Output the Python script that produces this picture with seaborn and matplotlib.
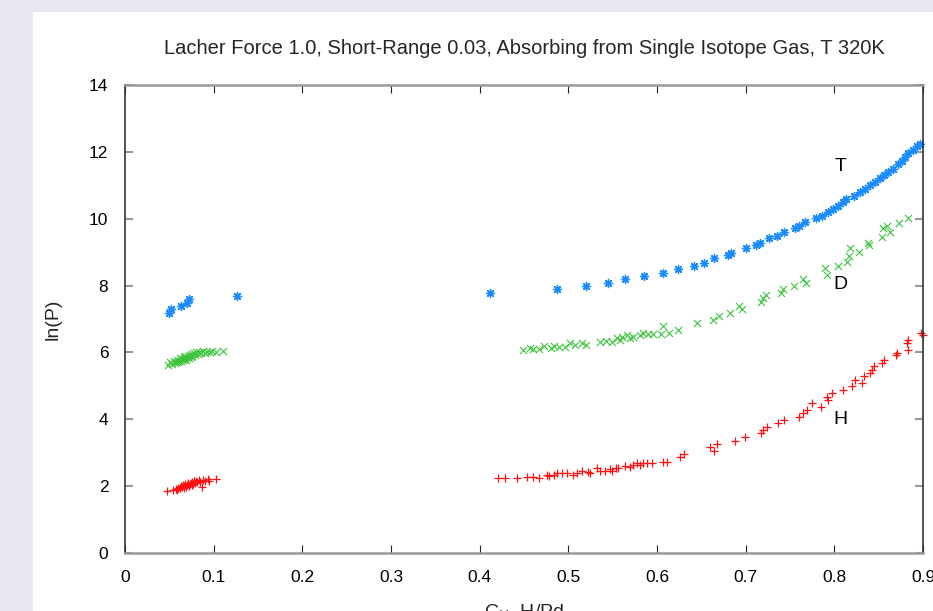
import matplotlib
matplotlib.use("Agg")
import matplotlib.pyplot as plt
import seaborn as sns
import pandas as pd
from matplotlib.patches import Rectangle

# ---- data ----
t_x = [0.0496, 0.052, 0.063, 0.070, 0.072, 0.126,
       0.412, 0.487, 0.520, 0.545, 0.564, 0.585, 0.607, 0.624, 0.642,
       0.653, 0.664, 0.680, 0.683, 0.700, 0.712, 0.716, 0.726, 0.735, 0.743,
       0.756, 0.760, 0.767, 0.779, 0.786, 0.793, 0.798, 0.804, 0.810, 0.813,
       0.822, 0.829, 0.835, 0.840, 0.846, 0.851, 0.856, 0.861, 0.866, 0.872,
       0.876, 0.880, 0.883, 0.889, 0.893, 0.897]
t_y = [7.18, 7.30, 7.39, 7.48, 7.60, 7.69,
       7.78, 7.90, 7.99, 8.08, 8.20, 8.29, 8.38, 8.50, 8.59,
       8.67, 8.82, 8.91, 8.97, 9.12, 9.21, 9.27, 9.42, 9.48, 9.60,
       9.72, 9.78, 9.90, 10.02, 10.08, 10.20, 10.29, 10.38, 10.50, 10.59,
       10.68, 10.80, 10.89, 11.01, 11.10, 11.22, 11.31, 11.40, 11.49, 11.64,
       11.73, 11.85, 11.97, 12.06, 12.18, 12.24]

d_x = [0.049, 0.051, 0.053, 0.055, 0.056, 0.058, 0.059, 0.060, 0.061, 0.062,
       0.063, 0.064, 0.065, 0.066, 0.067, 0.068, 0.069, 0.070, 0.071, 0.072,
       0.073, 0.074, 0.075, 0.076, 0.078, 0.079, 0.080, 0.082, 0.084, 0.086,
       0.088, 0.090, 0.093, 0.096, 0.098, 0.103, 0.110,
       0.449, 0.457, 0.460, 0.467, 0.473, 0.481, 0.484, 0.490, 0.496, 0.502,
       0.507, 0.515, 0.520, 0.536, 0.543, 0.549, 0.555, 0.558, 0.560, 0.566,
       0.570, 0.573, 0.581, 0.584, 0.590, 0.596, 0.604, 0.607, 0.614, 0.624,
       0.645, 0.663, 0.670, 0.682, 0.692, 0.696, 0.717, 0.720, 0.723, 0.740,
       0.742, 0.754, 0.765, 0.768, 0.789, 0.792, 0.804, 0.814, 0.816, 0.818,
       0.828, 0.838, 0.839, 0.854, 0.855, 0.859, 0.863, 0.873, 0.883]
d_y = [5.62, 5.70, 5.66, 5.74, 5.68, 5.72, 5.78, 5.70, 5.75, 5.82,
       5.73, 5.79, 5.76, 5.85, 5.80, 5.88, 5.78, 5.84, 5.90, 5.83,
       5.93, 5.87, 5.95, 5.89, 5.97, 5.92, 6.00, 5.96, 6.02, 5.98,
       6.04, 5.99, 6.02, 6.00, 6.03, 6.02, 6.05,
       6.07, 6.13, 6.10, 6.10, 6.19, 6.13, 6.19, 6.16, 6.16, 6.28,
       6.22, 6.28, 6.22, 6.31, 6.34, 6.31, 6.43, 6.37, 6.46, 6.52,
       6.43, 6.46, 6.52, 6.58, 6.55, 6.55, 6.55, 6.79, 6.58, 6.67,
       6.88, 6.97, 7.09, 7.18, 7.39, 7.30, 7.51, 7.63, 7.72, 7.78,
       7.90, 7.99, 8.20, 8.08, 8.53, 8.32, 8.59, 8.71, 8.88, 9.12,
       9.00, 9.27, 9.21, 9.45, 9.72, 9.78, 9.60, 9.87, 10.02]

h_x = [0.047, 0.054, 0.057, 0.059, 0.060, 0.062, 0.063, 0.064, 0.065, 0.066,
       0.067, 0.068, 0.069, 0.070, 0.071, 0.072, 0.073, 0.074, 0.075, 0.076,
       0.077, 0.078, 0.079, 0.080, 0.081, 0.083, 0.085, 0.087, 0.088, 0.090,
       0.094, 0.095, 0.103,
       0.421, 0.429, 0.442, 0.453, 0.460, 0.467, 0.476, 0.478, 0.484, 0.487,
       0.493, 0.498, 0.505, 0.510, 0.515, 0.522, 0.524, 0.532, 0.536, 0.541,
       0.547, 0.549, 0.554, 0.556, 0.564, 0.570, 0.573, 0.577, 0.581, 0.584,
       0.589, 0.594, 0.607, 0.611, 0.626, 0.631,
       0.660, 0.664, 0.668, 0.688, 0.699, 0.717, 0.720, 0.724, 0.736, 0.743,
       0.760, 0.765, 0.769, 0.775, 0.785, 0.792, 0.793, 0.797, 0.810, 0.820,
       0.823, 0.831, 0.834, 0.840, 0.842, 0.845, 0.854, 0.856, 0.870, 0.871,
       0.882, 0.883, 0.883, 0.898, 0.900]
h_y = [1.85, 1.88, 1.92, 1.89, 1.95, 1.93, 1.99, 1.96, 2.02, 1.94,
       2.00, 2.05, 1.98, 2.03, 2.08, 2.01, 2.06, 2.10, 2.04, 2.12,
       2.07, 2.14, 2.09, 2.16, 2.11, 2.17, 2.13, 1.97, 2.19, 2.15,
       2.20, 2.16, 2.20,
       2.24, 2.24, 2.24, 2.27, 2.27, 2.24, 2.33, 2.30, 2.33, 2.39,
       2.39, 2.39, 2.33, 2.39, 2.45, 2.42, 2.39, 2.54, 2.45, 2.45,
       2.51, 2.45, 2.54, 2.54, 2.60, 2.57, 2.63, 2.69, 2.63, 2.69,
       2.69, 2.69, 2.72, 2.72, 2.87, 2.96,
       3.17, 3.05, 3.26, 3.35, 3.47, 3.59, 3.68, 3.77, 3.89, 3.98,
       4.07, 4.19, 4.28, 4.49, 4.37, 4.67, 4.58, 4.79, 4.88, 5.00,
       5.18, 5.09, 5.30, 5.39, 5.48, 5.60, 5.69, 5.78, 5.93, 5.99,
       6.29, 6.38, 6.08, 6.58, 6.52]

x_ticks = [0, 0.1, 0.2, 0.3, 0.4, 0.5, 0.6, 0.7, 0.8, 0.9]
x_tick_labels = ["0", "0.1", "0.2", "0.3", "0.4", "0.5", "0.6", "0.7", "0.8", "0.9"]
y_ticks = [0, 2, 4, 6, 8, 10, 12, 14]

title = "Lacher Force 1.0, Short-Range 0.03, Absorbing from Single Isotope Gas, T 320K"
labels = [("T", 0.807, 11.55), ("D", 0.807, 8.02), ("H", 0.807, 3.98)]

# ---- figure ----
sns.set_theme(style="white")
plt.rcParams["font.family"] = ["Liberation Sans", "DejaVu Sans"]

fig = plt.figure(figsize=(9.33, 6.11), dpi=100, facecolor="#e8e8f3")
fig.patches.append(Rectangle((33 / 933, 0), 1, 1 - 12 / 611, transform=fig.transFigure,
                             facecolor="white", edgecolor="none", zorder=-10))
ax = fig.add_axes([125 / 933, 1 - 553 / 611, (923 - 125) / 933, (553 - 85) / 611])
ax.set_facecolor("white")

df_t = pd.DataFrame({"x": t_x, "y": t_y})
df_d = pd.DataFrame({"x": d_x, "y": d_y})
df_h = pd.DataFrame({"x": h_x, "y": h_y})

sns.scatterplot(data=df_t, x="x", y="y", ax=ax, marker=(8, 2, 0), color="#1a8cff",
                s=34, linewidth=1.0, legend=False, clip_on=False)
sns.scatterplot(data=df_d, x="x", y="y", ax=ax, marker="x", color="#3cc43c",
                s=26, linewidth=0.8, legend=False, clip_on=False)
sns.scatterplot(data=df_h, x="x", y="y", ax=ax, marker="+", color="#ff1010",
                s=34, linewidth=0.9, legend=False, clip_on=False)

for txt, lx, ly in labels:
    ax.text(lx, ly, txt, fontsize=14, ha="center", va="center", color="black")

ax.set_xlim(0, 0.9)
ax.set_ylim(0, 14)
ax.set_xticks(x_ticks)
ax.set_xticklabels(x_tick_labels)
ax.set_yticks(y_ticks)
ax.tick_params(axis="both", direction="in", labelsize=12.5, colors="black")
ax.tick_params(axis="x", length=6, width=0.8, color="#222222", top=True, bottom=True, pad=12)
ax.tick_params(axis="y", length=6, width=1.5, color="#999999", left=True, right=True, pad=12)
ax.tick_params(labelcolor="black")

for side in ["left", "right"]:
    ax.spines[side].set_color("#333333")
    ax.spines[side].set_linewidth(1.2)
for side in ["top", "bottom"]:
    ax.spines[side].set_color("#999999")
    ax.spines[side].set_linewidth(1.8)

ax.set_xlabel("")
ax.set_ylabel("ln(P)", fontsize=14, labelpad=20)
fig.text(524 / 933, 1 - 603 / 611, "C$_\\mathrm{H}$  H/Pd", fontsize=14, ha="center", va="top")
ax.set_title(title, fontsize=14.5, pad=22)

fig.savefig("out.png", dpi=100, facecolor=fig.get_facecolor())
